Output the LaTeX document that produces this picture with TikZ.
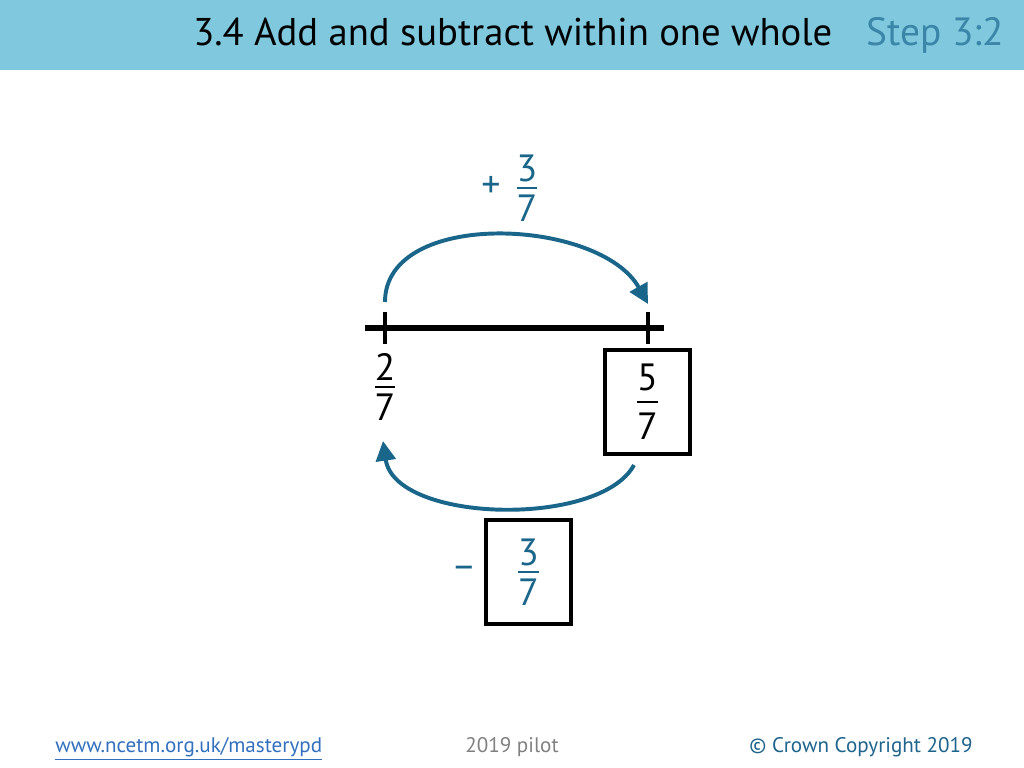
\documentclass[tikz,border=0pt]{standalone}
\usepackage{amsmath,amssymb}
\usepackage{xcolor}
\usepackage{fontspec}
\setmainfont{PT Sans}
\usepackage{tikz}
\usetikzlibrary{arrows.meta}

\definecolor{bandblue}{RGB}{127,200,221}
\definecolor{stepblue}{RGB}{58,133,168}
\definecolor{jumpteal}{RGB}{26,102,138}
\definecolor{linkblue}{RGB}{50,112,190}
\definecolor{crownteal}{RGB}{30,100,140}

% stacked fraction: numerator, bar, denominator
\newcommand{\frc}[3][4pt]{\ensuremath{\vcenter{\offinterlineskip
    \halign{\hfil##\hfil\cr #2\cr\noalign{\kern#1}\rule{0.55em}{1.4pt}\cr\noalign{\kern#1}#3\cr}}}}

\begin{document}
\begin{tikzpicture}[x=0.025cm,y=-0.025cm,
    numtext/.style={font=\fontsize{27}{30}\selectfont},
    ansbox/.style={draw=black,line width=2.2pt,minimum width=2.125cm,minimum height=2.6cm,inner sep=0pt},
    jump/.style={jumpteal,line width=2.8pt,-{Triangle[length=14pt,width=14pt]}}]
    \useasboundingbox (0,0) rectangle (1024,768);
    % header band
    \fill[bandblue] (0,0) rectangle (1024,70);
    \node[anchor=base west,inner sep=0pt,font=\fontsize{27.5}{30}\selectfont] (title) at (193,46)
        {3.4 Add and subtract within one whole};
    \node[anchor=base east,inner sep=0pt,text=stepblue,font=\fontsize{28}{30}\selectfont] (step) at (1004,46)
        {Step 3:2};

    % number line
    \coordinate (lineL) at (365,328);
    \coordinate (lineR) at (664,328);
    \draw[line width=3.6pt] (lineL) -- (lineR);
    \foreach \t/\x in {tickA/385,tickB/648} {
        \coordinate (\t) at (\x,328);
        \draw[line width=2.4pt] (\t) ++(0,-16) -- ++(0,32);
    }

    % fractions on the line
    \node[numtext] (twosev) at (385,387) {\frc{2}{7}};
    \node[ansbox,numtext] (fivebox) at (647.5,402) {\frc[7pt]{5}{7}};

    % add jump
    \coordinate (upA) at (385,302);
    \coordinate (upB) at (648,304);
    \draw[jump] (upA) .. controls (385,208) and (600,218) .. (upB);
    \node[numtext,text=jumpteal] (plus) at (491,187) {+};
    \node[numtext,text=jumpteal] (addfr) at (527,188) {\frc{3}{7}};

    % subtract jump
    \coordinate (downB) at (634,465);
    \coordinate (downA) at (383,441);
    \draw[jump] (downB) .. controls (600,528) and (395,523) .. (downA);
    \node[ansbox,numtext,text=jumpteal] (subbox) at (528.5,572) {\frc{3}{7}};
    \node[numtext,text=jumpteal] (minus) at (464,572) {–};

    % footer
    \node[anchor=base west,inner sep=0pt,text=linkblue,font=\fontsize{15}{18}\selectfont] (link) at (55,752)
        {\underline{www.ncetm.org.uk/masterypd}};
    \node[anchor=base,inner sep=0pt,text=gray,font=\fontsize{15}{18}\selectfont] (pilot) at (512,752)
        {2019 pilot};
    \node[anchor=base east,inner sep=0pt,text=crownteal,font=\fontsize{15}{18}\selectfont] (crown) at (973,752)
        {© Crown Copyright 2019};
\end{tikzpicture}
\end{document}
